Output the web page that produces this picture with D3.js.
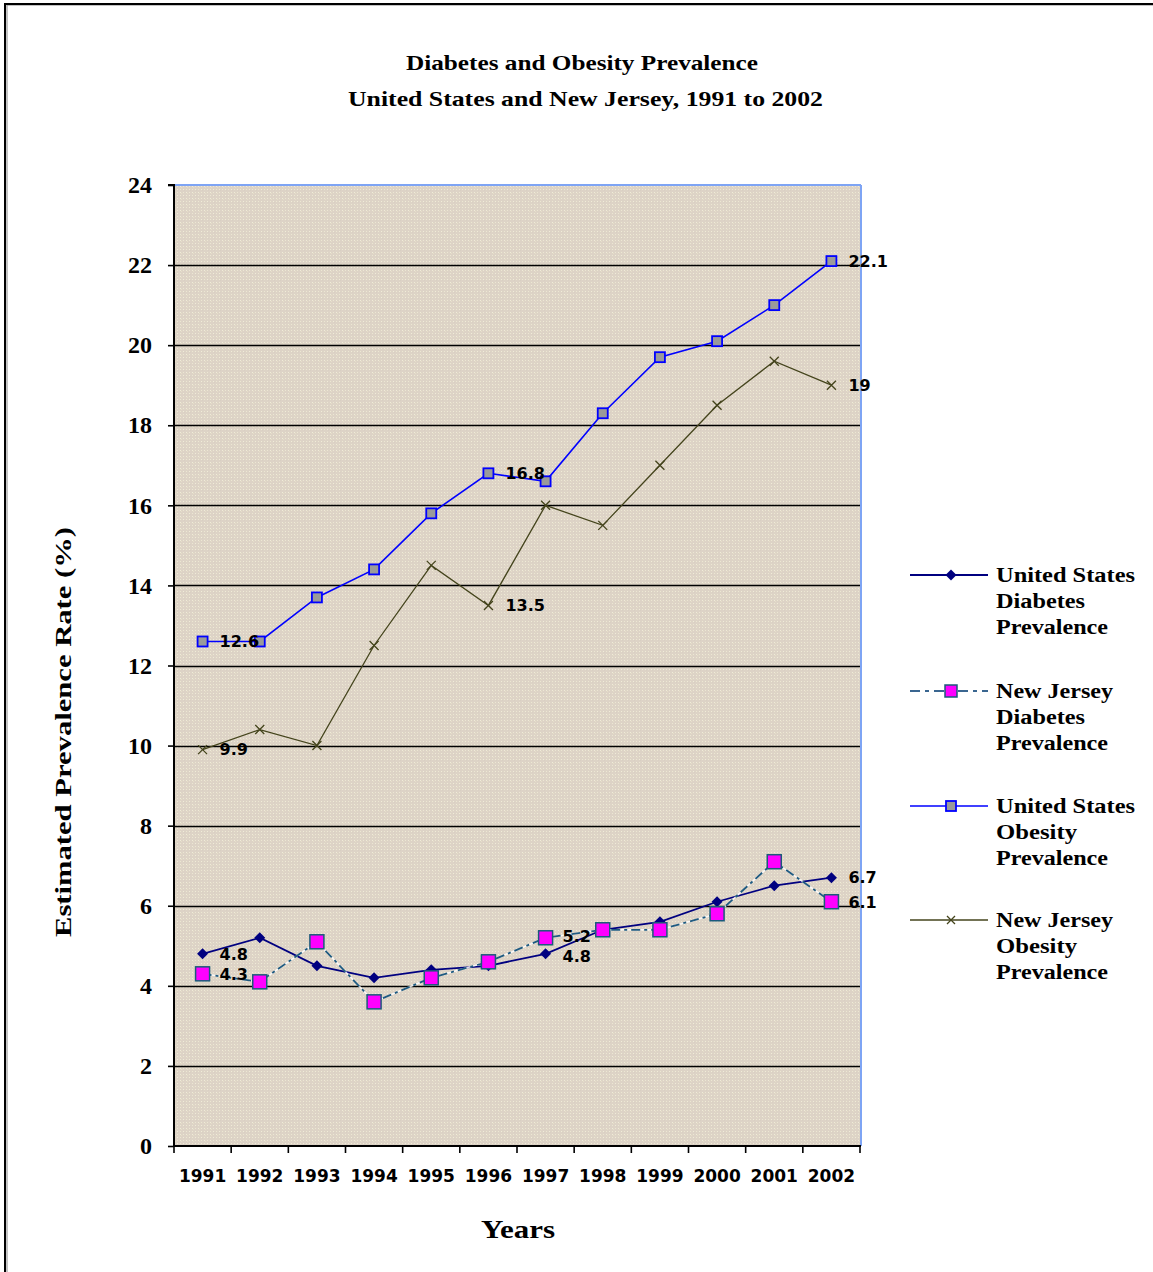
<!DOCTYPE html>
<html>
<head>
<meta charset="utf-8">
<script src="https://cdn.jsdelivr.net/npm/d3@7"></script>
<style>
  html, body { margin: 0; padding: 0; background: #fff; }
  svg { display: block; }
</style>
</head>
<body>
<svg id="chart" width="1153" height="1272"></svg>
<script>
// ---------- DATA ----------
const years = ["1991","1992","1993","1994","1995","1996","1997","1998","1999","2000","2001","2002"];
const usDiabetes = [4.8, 5.2, 4.5, 4.2, 4.4, 4.5, 4.8, 5.4, 5.6, 6.1, 6.5, 6.7];
const njDiabetes = [4.3, 4.1, 5.1, 3.6, 4.2, 4.6, 5.2, 5.4, 5.4, 5.8, 7.1, 6.1];
const usObesity  = [12.6, 12.6, 13.7, 14.4, 15.8, 16.8, 16.6, 18.3, 19.7, 20.1, 21.0, 22.1];
const njObesity  = [9.9, 10.4, 10.0, 12.5, 14.5, 13.5, 16.0, 15.5, 17.0, 18.5, 19.6, 19.0];
const yTicks = [0, 2, 4, 6, 8, 10, 12, 14, 16, 18, 20, 22, 24];
const seriesNames = [
  ["United States", "Diabetes", "Prevalence"],
  ["New Jersey", "Diabetes", "Prevalence"],
  ["United States", "Obesity", "Prevalence"],
  ["New Jersey", "Obesity", "Prevalence"]
];
const labeledDiabetes = [0, 6, 11];
const labeledObesity = [0, 5, 11];
const titleLines = ["Diabetes and Obesity Prevalence", "United States and New Jersey, 1991 to 2002"];
const yTitle = "Estimated Prevalence Rate (%)";
const xTitle = "Years";

// ---------- LAYOUT ----------
const svg = d3.select("#chart");
const L = 174, R = 860, T = 185, B = 1146;
const serif = "'Liberation Serif', 'Times New Roman', serif";
const sans = "'DejaVu Sans', Verdana, sans-serif";

const x = d3.scaleBand().domain(years).range([L, R]);
const cx = d => x(d) + x.bandwidth() / 2;
const y = d3.scaleLinear().domain([0, 24]).range([B, T]);

// outer frame (top + left)
svg.append("line").attr("x1", 7).attr("x2", 1153).attr("y1", 5).attr("y2", 5).attr("stroke", "#888").attr("stroke-width", 1);
svg.append("line").attr("x1", 7).attr("x2", 7).attr("y1", 5).attr("y2", 1272).attr("stroke", "#888").attr("stroke-width", 1);
svg.append("line").attr("x1", 5).attr("x2", 1153).attr("y1", 4).attr("y2", 4).attr("stroke", "#000").attr("stroke-width", 2);
svg.append("line").attr("x1", 5).attr("x2", 5).attr("y1", 3).attr("y2", 1272).attr("stroke", "#000").attr("stroke-width", 2);

// texture pattern for plot area
const defs = svg.append("defs");
const pat = defs.append("pattern").attr("id", "granite").attr("patternUnits", "userSpaceOnUse")
  .attr("width", 6).attr("height", 6);
pat.append("rect").attr("width", 6).attr("height", 6).attr("fill", "#ddd3c6");
pat.append("rect").attr("x", 0).attr("y", 0).attr("width", 1).attr("height", 1).attr("fill", "#f0ecd8");
pat.append("rect").attr("x", 3).attr("y", 0).attr("width", 1).attr("height", 1).attr("fill", "#ece7d2");
pat.append("rect").attr("x", 0).attr("y", 3).attr("width", 1).attr("height", 1).attr("fill", "#ece7d2");
pat.append("rect").attr("x", 3).attr("y", 3).attr("width", 1).attr("height", 1).attr("fill", "#f0ecd8");
pat.append("rect").attr("x", 1).attr("y", 1).attr("width", 1).attr("height", 1).attr("fill", "#e6dfc8");
pat.append("rect").attr("x", 4).attr("y", 4).attr("width", 1).attr("height", 1).attr("fill", "#d9cfc3");

svg.append("rect").attr("x", L).attr("y", T).attr("width", R - L).attr("height", B - T).attr("fill", "url(#granite)");

// gridlines
svg.append("g").selectAll("line").data(yTicks.filter(v => v > 0 && v < 24)).join("line")
  .attr("x1", L).attr("x2", R).attr("y1", d => Math.round(y(d)) + 0.5).attr("y2", d => Math.round(y(d)) + 0.5)
  .attr("stroke", "#000").attr("stroke-width", 1.6);

// plot border top/right (blue)
svg.append("line").attr("x1", L).attr("x2", R + 1).attr("y1", T).attr("y2", T).attr("stroke", "#7ea4f4").attr("stroke-width", 2);
svg.append("line").attr("x1", R + 1).attr("x2", R + 1).attr("y1", T).attr("y2", B).attr("stroke", "#7ea4f4").attr("stroke-width", 2);

// Y axis
const yAxis = svg.append("g").attr("transform", `translate(${L},0)`)
  .call(d3.axisLeft(y).tickValues(yTicks).tickSize(6).tickPadding(16).tickFormat(d3.format("d")));
yAxis.select(".domain").attr("stroke", "#000").attr("stroke-width", 2).attr("d", `M-6,${T}H0V${B}`);
yAxis.selectAll(".tick line").attr("stroke", "#000").attr("stroke-width", 1.6);
yAxis.selectAll(".tick text").attr("font-family", serif).attr("font-weight", "bold").attr("font-size", 24).attr("fill", "#000");

// X axis
const xAxis = svg.append("g").attr("transform", `translate(0,${B})`)
  .call(d3.axisBottom(x).tickSize(0).tickPadding(24));
xAxis.select(".domain").attr("stroke", "#000").attr("stroke-width", 2).attr("d", `M${L},0H${R + 1}`);
xAxis.selectAll(".tick text").attr("font-family", sans).attr("font-weight", "bold").attr("font-size", 17).attr("fill", "#000");
const bounds = years.map(d => x(d)).concat([R]);
xAxis.append("g").selectAll("line").data(bounds).join("line")
  .attr("x1", d => d).attr("x2", d => d).attr("y1", 0).attr("y2", 7)
  .attr("stroke", "#000").attr("stroke-width", 1.6);

// ---------- SERIES ----------
const line = d3.line().x((d, i) => cx(years[i])).y(d => y(d));
const plot = svg.append("g");

// US diabetes
plot.append("path").datum(usDiabetes).attr("d", line).attr("fill", "none").attr("stroke", "#000080").attr("stroke-width", 1.8);
const diamond = s => `M0,${-s}L${s},0L0,${s}L${-s},0Z`;
plot.append("g").selectAll("path").data(usDiabetes).join("path")
  .attr("transform", (d, i) => `translate(${cx(years[i])},${y(d)})`)
  .attr("d", diamond(5.5)).attr("fill", "#000080");

// NJ diabetes (dash-dot)
plot.append("path").datum(njDiabetes).attr("d", line).attr("fill", "none").attr("stroke", "#ffffff").attr("stroke-width", 1.6).attr("opacity", 0.85);
plot.append("path").datum(njDiabetes).attr("d", line).attr("fill", "none").attr("stroke", "#1f5a80").attr("stroke-width", 1.8)
  .attr("stroke-dasharray", "9,4,3,4");
plot.append("g").selectAll("rect").data(njDiabetes).join("rect")
  .attr("x", (d, i) => cx(years[i]) - 7).attr("y", d => y(d) - 7).attr("width", 14).attr("height", 14)
  .attr("fill", "#ff00ff").attr("stroke", "#1a5a7a").attr("stroke-width", 1.5);

// US obesity
plot.append("path").datum(usObesity).attr("d", line).attr("fill", "none").attr("stroke", "#0000ff").attr("stroke-width", 1.6);
plot.append("g").selectAll("rect").data(usObesity).join("rect")
  .attr("x", (d, i) => cx(years[i]) - 5).attr("y", d => y(d) - 5).attr("width", 10).attr("height", 10)
  .attr("fill", "#9a9a9a").attr("stroke", "#0000ff").attr("stroke-width", 1.8);

// NJ obesity
plot.append("path").datum(njObesity).attr("d", line).attr("fill", "none").attr("stroke", "#44441c").attr("stroke-width", 1.3);
const cross = s => `M${-s},${-s}L${s},${s}M${-s},${s}L${s},${-s}`;
plot.append("g").selectAll("path").data(njObesity).join("path")
  .attr("transform", (d, i) => `translate(${cx(years[i])},${y(d)})`)
  .attr("d", cross(4.5)).attr("fill", "none").attr("stroke", "#44441c").attr("stroke-width", 1.3);

// data labels (each label sits right of its point; close pairs nudged apart)
const labels = [];
labeledDiabetes.forEach(i => {
  const a = usDiabetes[i], b = njDiabetes[i];
  const close = Math.abs(y(a) - y(b)) < 20;
  const shift = close ? (20 - Math.abs(y(a) - y(b))) / 2 : 0;
  labels.push([i, a, a >= b ? -shift : shift]);
  labels.push([i, b, b > a ? -shift : shift]);
});
labeledObesity.forEach(i => { labels.push([i, usObesity[i], 0]); labels.push([i, njObesity[i], 0]); });
svg.append("g").selectAll("text").data(labels).join("text")
  .attr("x", d => cx(years[d[0]]) + 17).attr("y", d => y(d[1]) + d[2])
  .attr("dy", "0.36em")
  .attr("font-family", sans).attr("font-weight", "bold").attr("font-size", 16).attr("fill", "#000")
  .text(d => String(d[1]));

// ---------- TEXTS ----------
function fitText(sel, w) {
  sel.attr("textLength", w).attr("lengthAdjust", "spacingAndGlyphs");
}
svg.append("text").attr("x", 582).attr("y", 70).attr("text-anchor", "middle")
  .attr("font-family", serif).attr("font-weight", "bold").attr("font-size", 21).text(titleLines[0]).call(fitText, 352);
svg.append("text").attr("x", 585.5).attr("y", 106).attr("text-anchor", "middle")
  .attr("font-family", serif).attr("font-weight", "bold").attr("font-size", 21).text(titleLines[1]).call(fitText, 475);

svg.append("text").attr("transform", "translate(71,732) rotate(-90)").attr("text-anchor", "middle")
  .attr("font-family", serif).attr("font-weight", "bold").attr("font-size", 24).text(yTitle).call(fitText, 410);

svg.append("text").attr("x", 518).attr("y", 1238).attr("text-anchor", "middle")
  .attr("font-family", serif).attr("font-weight", "bold").attr("font-size", 25).text(xTitle).call(fitText, 74);

// ---------- LEGEND ----------
const legendY = [575, 691, 806, 920];
const textWidths = { "United States": 139, "New Jersey": 117, "Diabetes": 89, "Obesity": 81, "Prevalence": 112 };
const leg = svg.append("g");
seriesNames.forEach((names, k) => {
  const g = leg.append("g").attr("transform", `translate(0,${legendY[k]})`);
  if (k === 0) {
    g.append("line").attr("x1", 910).attr("x2", 988).attr("y1", 0).attr("y2", 0).attr("stroke", "#000080").attr("stroke-width", 1.8);
    g.append("path").attr("transform", "translate(951,0)").attr("d", diamond(5.5)).attr("fill", "#000080");
  } else if (k === 1) {
    g.append("line").attr("x1", 910).attr("x2", 988).attr("y1", 0).attr("y2", 0).attr("stroke", "#3a6690").attr("stroke-width", 1.8)
      .attr("stroke-dasharray", "10,5,4,5");
    g.append("rect").attr("x", 945).attr("y", -6).attr("width", 12).attr("height", 12).attr("fill", "#ff00ff").attr("stroke", "#1a5a7a").attr("stroke-width", 1.5);
  } else if (k === 2) {
    g.append("line").attr("x1", 910).attr("x2", 988).attr("y1", 0).attr("y2", 0).attr("stroke", "#0000ff").attr("stroke-width", 1.6);
    g.append("rect").attr("x", 946).attr("y", -5).attr("width", 10).attr("height", 10).attr("fill", "#9a9a9a").attr("stroke", "#0000ff").attr("stroke-width", 1.8);
  } else {
    g.append("line").attr("x1", 910).attr("x2", 988).attr("y1", 0).attr("y2", 0).attr("stroke", "#44441c").attr("stroke-width", 1.5);
    g.append("path").attr("transform", "translate(951,0)").attr("d", cross(4)).attr("fill", "none").attr("stroke", "#44441c").attr("stroke-width", 1.3);
  }
  names.forEach((t, j) => {
    g.append("text").attr("x", 996).attr("y", j * 26 + 7)
      .attr("font-family", serif).attr("font-weight", "bold").attr("font-size", 20).attr("fill", "#000")
      .text(t).call(fitText, textWidths[t]);
  });
});
</script>
</body>
</html>
